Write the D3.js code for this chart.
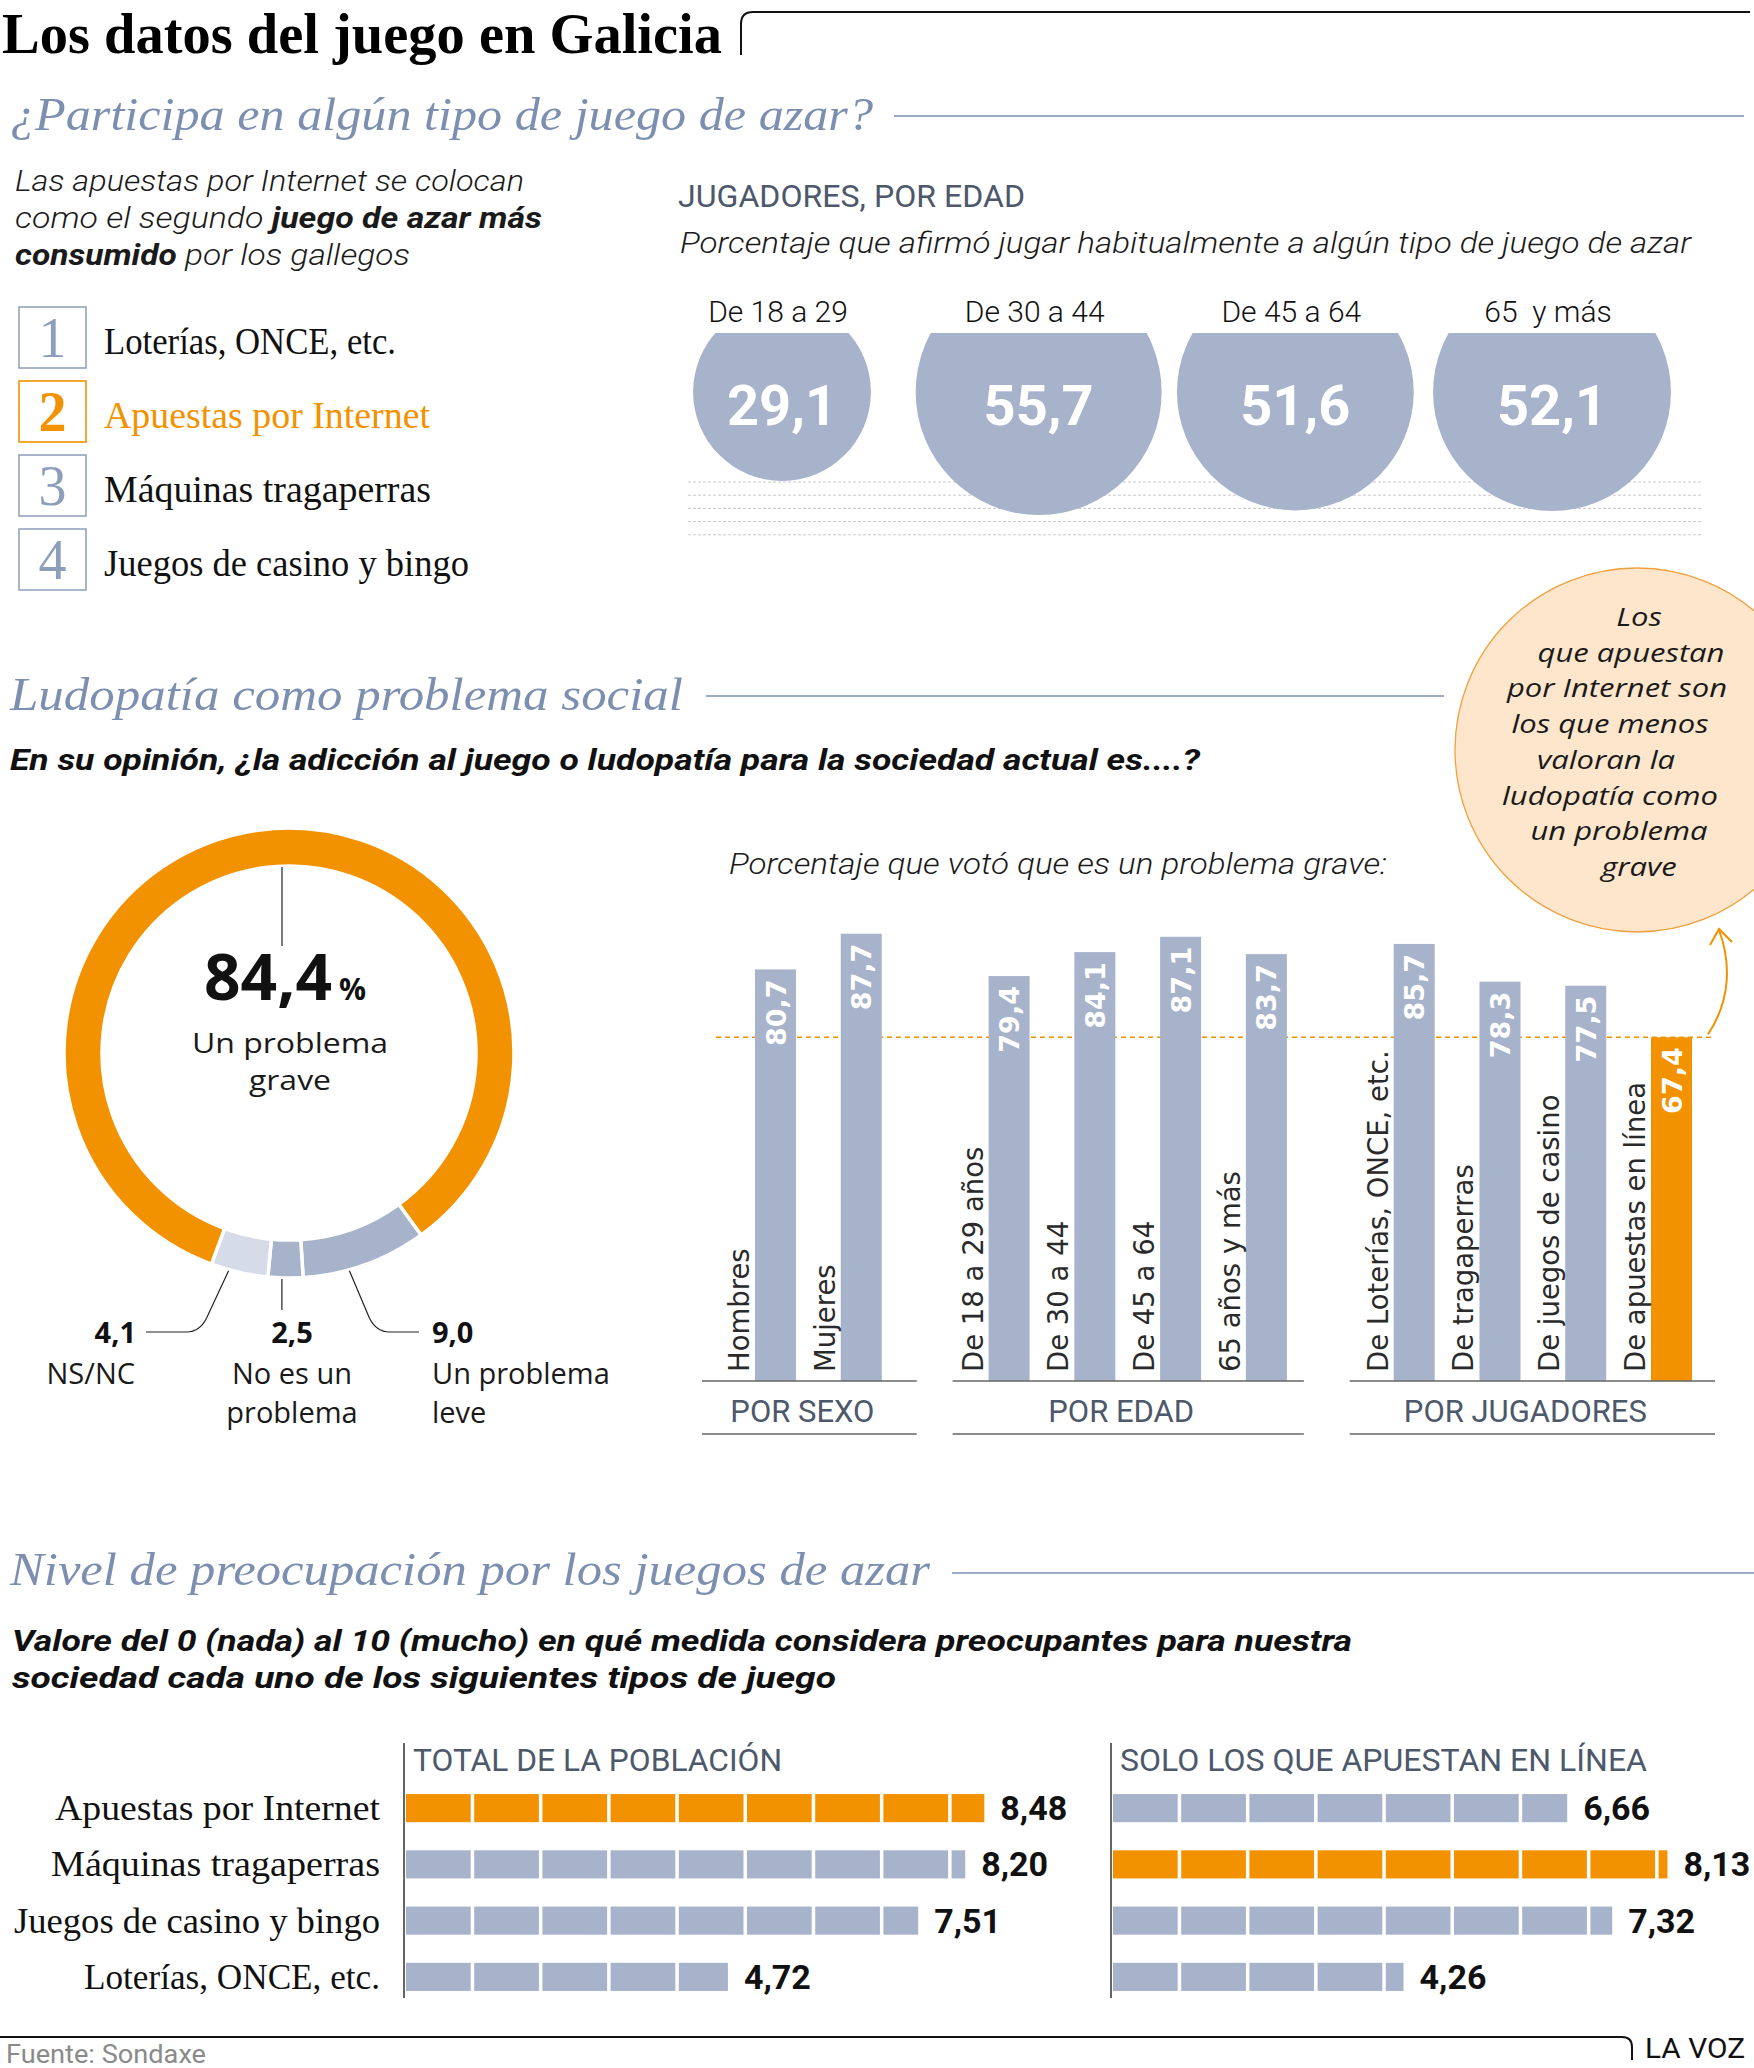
<!DOCTYPE html>
<html><head><meta charset="utf-8">
<script src="https://cdn.jsdelivr.net/npm/d3@7"></script>
<style>
html,body{margin:0;padding:0;background:#fff;}
svg{display:block;}
</style></head>
<body>
<svg id="chart" width="1754" height="2068"></svg>
<script>
// ---------------- DATA ----------------
const rankItems = ["Loterías, ONCE, etc.", "Apuestas por Internet", "Máquinas tragaperras", "Juegos de casino y bingo"];
const rankHighlight = 1;
const ageCats = ["De 18 a 29", "De 30 a 44", "De 45 a 64", "65  y más"];
const agePlayers = [29.1, 55.7, 51.6, 52.1];
const donutLabels = ["Un problema leve", "No es un problema", "NS/NC", "Un problema grave"];
const donutValues = [9.0, 2.5, 4.1, 84.4];
const groupNames = ["POR SEXO", "POR EDAD", "POR JUGADORES"];
const barLabels = ["Hombres", "Mujeres", "De 18 a 29 años", "De 30 a 44", "De 45 a 64", "65 años y más",
  "De Loterías, ONCE, etc.", "De tragaperras", "De juegos de casino", "De apuestas en línea"];
const barValues = [80.7, 87.7, 79.4, 84.1, 87.1, 83.7, 85.7, 78.3, 77.5, 67.4];
const barGroup = [0, 0, 1, 1, 1, 1, 2, 2, 2, 2];
const concernCats = ["Apuestas por Internet", "Máquinas tragaperras", "Juegos de casino y bingo", "Loterías, ONCE, etc."];
const concernTotal = [8.48, 8.20, 7.51, 4.72];
const concernOnline = [6.66, 8.13, 7.32, 4.26];
const annotLines = ["Los", "que apuestan", "por Internet son", "los que menos", "valoran la", "ludopatía como", "un problema", "grave"];

// ---------------- STYLE ----------------
const ORANGE = "#f39200", BLUE = "#a7b3cb", LIGHT = "#d5dbe7", HEAD = "#7c8fb0", SLATE = "#4d586b", PEACH = "#fde6cc";
const SERIF = "'Liberation Serif', 'DejaVu Serif', serif";
const SANS = "Roboto, 'Open Sans', sans-serif";
const OPEN = "'Open Sans', Roboto, sans-serif";
const DJ = "'DejaVu Sans', sans-serif";
const fmt1 = v => d3.format(".1f")(v).replace(".", ",");
const fmt2 = v => d3.format(".2f")(v).replace(".", ",");

const svg = d3.select("#chart");
svg.append("rect").attr("width", 1754).attr("height", 2068).attr("fill", "#fff");

function txt(g, x, y, s, o = {}) {
  const t = g.append("text").attr("x", x).attr("y", y).text(s)
    .attr("font-family", o.ff || SANS).attr("font-size", o.fs || 30)
    .attr("fill", o.fill || "#1a1a1a").attr("style", "white-space:pre");
  if (o.fw) t.attr("font-weight", o.fw);
  if (o.it) t.attr("font-style", "italic");
  if (o.anchor) t.attr("text-anchor", o.anchor);
  if (o.len) t.attr("textLength", o.len).attr("lengthAdjust", "spacingAndGlyphs");
  return t;
}
// measure at a display size, then render at a compact size with the same width (tight line stacks)
function compact(t, fs) {
  const w = t.node().getComputedTextLength();
  t.attr("font-size", fs).attr("textLength", w).attr("lengthAdjust", "spacingAndGlyphs");
  return t;
}

// ---------------- TITLE ----------------
txt(svg, 2, 53, "Los datos del juego en Galicia", {ff: SERIF, fs: 58, fw: 700, fill: "#000", len: 720});
svg.append("path").attr("d", "M741,55 L741,24 Q741,12 753,12 L1750,12")
  .attr("fill", "none").attr("stroke", "#111").attr("stroke-width", 2);

// ---------------- SECTION 1 ----------------
txt(svg, 10, 130, "¿Participa en algún tipo de juego de azar?", {ff: SERIF, fs: 46, it: true, fill: HEAD, len: 863});
svg.append("line").attr("x1", 894).attr("x2", 1744).attr("y1", 116).attr("y2", 116).attr("stroke", HEAD).attr("stroke-width", 1.5);

const intro = [
  [{t: "Las apuestas por Internet se colocan"}],
  [{t: "como el segundo "}, {t: "juego de azar más", b: true}],
  [{t: "consumido", b: true}, {t: " por los gallegos"}]
];
const introLen = [509, 527, 395];
intro.forEach((line, i) => {
  const t = svg.append("text").attr("x", 15).attr("y", 191 + i * 37)
    .attr("font-family", SANS).attr("font-size", 30).attr("font-style", "italic")
    .attr("font-weight", 300).attr("fill", "#1a1a1a")
    .attr("textLength", introLen[i]).attr("lengthAdjust", "spacingAndGlyphs")
    .attr("style", "white-space:pre");
  line.forEach(seg => t.append("tspan").text(seg.t).attr("font-weight", seg.b ? 700 : 300));
});

const rankY = d3.scaleBand().domain(d3.range(rankItems.length)).range([307, 590]).paddingInner(13 / 74);
const rankLen = [292, 326, 327, 365];
rankItems.forEach((d, i) => {
  const hi = i === rankHighlight;
  const y0 = rankY(i), bh = rankY.bandwidth();
  svg.append("rect").attr("x", 19).attr("y", y0).attr("width", 67).attr("height", bh)
    .attr("fill", "none").attr("stroke", hi ? ORANGE : "#93a3bf").attr("stroke-width", 1.6);
  txt(svg, 52.5, y0 + bh / 2 + 19, String(i + 1), {ff: SERIF, fs: 56, anchor: "middle",
    fill: hi ? ORANGE : "#8d9ebc", fw: hi ? 700 : 400});
  txt(svg, 104, y0 + bh / 2 + 16, d, {ff: SERIF, fs: 38, fill: hi ? ORANGE : "#111", len: rankLen[i]});
});

txt(svg, 678, 207, "JUGADORES, POR EDAD", {fs: 32, fill: SLATE, len: 347});
txt(svg, 680, 253, "Porcentaje que afirmó jugar habitualmente a algún tipo de juego de azar",
  {fs: 30, it: true, fw: 300, fill: "#1a1a1a", len: 1011});

// dotted guide lines
d3.range(5).forEach(i => {
  svg.append("line").attr("x1", 688).attr("x2", 1701).attr("y1", 482 + i * 13.2).attr("y2", 482 + i * 13.2)
    .attr("stroke", "#c8c8c8").attr("stroke-width", 1).attr("stroke-dasharray", "3,2");
});

const cx = d3.scalePoint().domain(ageCats).range([782, 1552]);
const rS = d3.scaleSqrt().domain([0, d3.max(agePlayers)]).range([0, 123]);
const CY = 392;
svg.append("clipPath").attr("id", "clipTop").append("rect").attr("x", 600).attr("y", 333).attr("width", 1150).attr("height", 400);
const cg = svg.append("g");
ageCats.forEach((c, i) => {
  cg.append("circle").attr("cx", cx(c)).attr("cy", CY).attr("r", rS(agePlayers[i]))
    .attr("fill", BLUE).attr("clip-path", "url(#clipTop)");
  txt(cg, cx(c), CY + 33, fmt1(agePlayers[i]), {fs: 56, fw: 700, fill: "#fff", anchor: "middle"});
  txt(cg, cx(c) - 4, 322, c, {fs: 30, fw: 300, fill: "#111", anchor: "middle"});
});

// ---------------- SECTION 2 ----------------
txt(svg, 10, 710, "Ludopatía como problema social", {ff: SERIF, fs: 46, it: true, fill: HEAD, len: 673});
svg.append("line").attr("x1", 706).attr("x2", 1444).attr("y1", 696).attr("y2", 696).attr("stroke", HEAD).attr("stroke-width", 1.5);
txt(svg, 10, 770, "En su opinión, ¿la adicción al juego o ludopatía para la sociedad actual es....?",
  {fs: 30, it: true, fw: 700, fill: "#111", len: 1190});

// annotation bubble
svg.append("circle").attr("cx", 1637).attr("cy", 750).attr("r", 182)
  .attr("fill", PEACH).attr("stroke", "#f0a040").attr("stroke-width", 1.3);
const annotDx = [18, 10, -4, -11, -15, -11, -2, 18];
annotLines.forEach((l, i) => {
  compact(txt(svg, 1621 + annotDx[i], 626 + i * 35.7, l, {ff: OPEN, fs: 31, it: true, fw: 400, fill: "#1a1a1a", anchor: "middle"}), 26);
});

// donut
const DX = 289, DY = 1053;
const pie = d3.pie().sort(null).startAngle(144 * Math.PI / 180).endAngle(144 * Math.PI / 180 + 2 * Math.PI);
const arc = d3.arc().innerRadius(187).outerRadius(225);
const donutColors = [BLUE, BLUE, LIGHT, ORANGE];
const dg = svg.append("g").attr("transform", `translate(${DX},${DY})`);
dg.selectAll("path").data(pie(donutValues)).join("path")
  .attr("d", arc).attr("fill", (d, i) => donutColors[i]).attr("stroke", "#fff").attr("stroke-width", 3.5);
dg.append("line").attr("x1", -7).attr("x2", -7).attr("y1", -186).attr("y2", -107).attr("stroke", "#222").attr("stroke-width", 1.2);
txt(dg, -85, -53, fmt1(donutValues[3]), {ff: OPEN, fs: 64, fw: 700, fill: "#111"});
txt(dg, 50, -53, "%", {ff: OPEN, fs: 30, fw: 700, fill: "#111"});
compact(txt(dg, 1, 0, "Un problema", {ff: OPEN, fs: 32, fill: "#1a1a1a", anchor: "middle"}), 27);
compact(txt(dg, 1, 37, "grave", {ff: OPEN, fs: 32, fill: "#1a1a1a", anchor: "middle"}), 27);

// leader lines (from arc edges)
function edgePt(deg) { const a = deg * Math.PI / 180; return [DX + 226 * Math.sin(a), DY - 226 * Math.cos(a)]; }
const p41 = edgePt(195.5), p25 = edgePt(181.8), p90 = edgePt(164.5);
const lead = d => svg.append("path").attr("d", d).attr("fill", "none").attr("stroke", "#222").attr("stroke-width", 1.2);
lead(`M${p41[0]},${p41[1]} L${p41[0] - 22},${1318} Q${p41[0] - 29},${1332} ${p41[0] - 42},${1332} L146,1332`);
lead(`M${p25[0]},${p25[1]} L${p25[0]},1310`);
lead(`M${p90[0]},${p90[1]} L${p90[0] + 20},1318 Q${p90[0] + 27},1332 ${p90[0] + 40},1332 L419,1332`);
txt(svg, 136, 1343, fmt1(donutValues[2]), {ff: OPEN, fs: 29, fw: 700, fill: "#111", anchor: "end"});
txt(svg, 135, 1384, "NS/NC", {ff: OPEN, fs: 29, fill: "#1a1a1a", anchor: "end"});
txt(svg, 292, 1343, fmt1(donutValues[1]), {ff: OPEN, fs: 29, fw: 700, fill: "#111", anchor: "middle"});
txt(svg, 292, 1384, "No es un", {ff: OPEN, fs: 29, fill: "#1a1a1a", anchor: "middle"});
txt(svg, 292, 1423, "problema", {ff: OPEN, fs: 29, fill: "#1a1a1a", anchor: "middle"});
txt(svg, 432, 1343, fmt1(donutValues[0]), {ff: OPEN, fs: 29, fw: 700, fill: "#111"});
txt(svg, 432, 1384, "Un problema", {ff: OPEN, fs: 29, fill: "#1a1a1a"});
txt(svg, 432, 1423, "leve", {ff: OPEN, fs: 29, fill: "#1a1a1a"});

// vertical bars
txt(svg, 729, 874, "Porcentaje que votó que es un problema grave:", {fs: 30, it: true, fw: 300, fill: "#1a1a1a", len: 658});
const BASE = 1381;
const y = d3.scaleLinear().domain([0, 100]).range([BASE, BASE - 510]);
const gapSlots = 0.7235;
const slot = i => i + barGroup[i] * gapSlots;
const x = d3.scaleLinear().domain([0, slot(9)]).range([755, 1651]);
const BW = 41;
const minV = d3.min(barValues);
svg.append("line").attr("x1", 716).attr("x2", 1714).attr("y1", y(minV)).attr("y2", y(minV))
  .attr("stroke", ORANGE).attr("stroke-width", 1.3).attr("stroke-dasharray", "5,4");
const bg = svg.append("g");
barValues.forEach((v, i) => {
  const x0 = x(slot(i));
  bg.append("rect").attr("x", x0).attr("y", y(v)).attr("width", BW).attr("height", BASE - y(v))
    .attr("fill", v === minV ? ORANGE : BLUE);
  bg.append("text").attr("transform", `translate(${x0 + BW / 2 + 10},${y(v) + 10}) rotate(-90)`)
    .attr("text-anchor", "end").attr("font-family", DJ).attr("font-weight", 700).attr("font-size", 27)
    .attr("fill", "#fff").text(fmt1(v));
  bg.append("text").attr("transform", `translate(${x0 - 6},${BASE - 9}) rotate(-90)`)
    .attr("font-family", DJ).attr("font-size", 27.5).attr("fill", "#2a2a2a").text(barLabels[i]);
});
const groupPad = [[53, 35], [36, 17], [44, 23]];
groupNames.forEach((g, gi) => {
  const idx = d3.range(barValues.length).filter(i => barGroup[i] === gi);
  const l = x(slot(idx[0])) - groupPad[gi][0], r = x(slot(idx[idx.length - 1])) + BW + groupPad[gi][1];
  [BASE, 1434].forEach(yy => svg.append("line").attr("x1", l).attr("x2", r).attr("y1", yy).attr("y2", yy)
    .attr("stroke", "#666").attr("stroke-width", 1.6));
  txt(svg, (l + r) / 2 - 7, 1422, g, {fs: 31, fill: SLATE, anchor: "middle"});
});
// arrow from highlighted bar to bubble
svg.append("path").attr("d", `M1708,${y(minV) - 3} C1731,1000 1731,962 1719,930`)
  .attr("fill", "none").attr("stroke", ORANGE).attr("stroke-width", 2);
svg.append("path").attr("d", "M1710,945 L1719,929 L1732,942").attr("fill", "none").attr("stroke", ORANGE).attr("stroke-width", 2);

// ---------------- SECTION 3 ----------------
txt(svg, 10, 1585, "Nivel de preocupación por los juegos de azar", {ff: SERIF, fs: 46, it: true, fill: HEAD, len: 920});
svg.append("line").attr("x1", 952).attr("x2", 1754).attr("y1", 1573).attr("y2", 1573).attr("stroke", HEAD).attr("stroke-width", 1.5);
txt(svg, 12, 1651, "Valore del 0 (nada) al 10 (mucho) en qué medida considera preocupantes para nuestra",
  {fs: 30, it: true, fw: 700, fill: "#111", len: 1340});
txt(svg, 12, 1688, "sociedad cada uno de los siguientes tipos de juego", {fs: 30, it: true, fw: 700, fill: "#111", len: 824});

const rowY = d3.scaleBand().domain(concernCats).range([1780, 2005]).paddingInner(0.5).paddingOuter(0.25);
const hx = d3.scaleLinear().domain([0, 10]).range([0, 682]);
function panel(x0, vals, title, titleLen) {
  const g = svg.append("g").attr("transform", `translate(${x0},0)`);
  g.append("line").attr("x1", -2).attr("x2", -2).attr("y1", 1743).attr("y2", 1998).attr("stroke", "#333").attr("stroke-width", 1.5);
  txt(g, 7, 1771, title, {fs: 32, fill: SLATE, len: titleLen});
  const mx = d3.max(vals);
  concernCats.forEach((c, i) => {
    const v = vals[i];
    const segs = d3.range(Math.ceil(v)).map(k => [k, Math.min(k + 1, v)]);
    g.selectAll(null).data(segs).join("rect")
      .attr("x", d => hx(d[0])).attr("y", rowY(c)).attr("height", rowY.bandwidth())
      .attr("width", d => hx(d[1]) - hx(d[0]) - (d[1] < v ? 3.5 : 0))
      .attr("fill", v === mx ? ORANGE : BLUE);
    txt(g, hx(v) + 16, rowY(c) + rowY.bandwidth() / 2 + 12, fmt2(v), {fs: 34, fw: 700, fill: "#111"});
  });
}
panel(406, concernTotal, "TOTAL DE LA POBLACIÓN", 369);
panel(1113, concernOnline, "SOLO LOS QUE APUESTAN EN LÍNEA", 527);
const catLen = [325, 329, 366, 296];
concernCats.forEach((c, i) => {
  txt(svg, 380, rowY(c) + rowY.bandwidth() / 2 + 12, c, {ff: SERIF, fs: 35, fill: "#111", anchor: "end", len: catLen[i]});
});

// ---------------- FOOTER ----------------
svg.append("path").attr("d", "M0,2037 L1622,2037 Q1632,2037 1632,2047 L1632,2060")
  .attr("fill", "none").attr("stroke", "#111").attr("stroke-width", 2);
txt(svg, 6, 2063, "Fuente: Sondaxe", {fs: 26, fill: "#8a8a8a", len: 200});
txt(svg, 1645, 2058, "LA VOZ", {fs: 28, fill: "#111", len: 100});
</script>
</body></html>
